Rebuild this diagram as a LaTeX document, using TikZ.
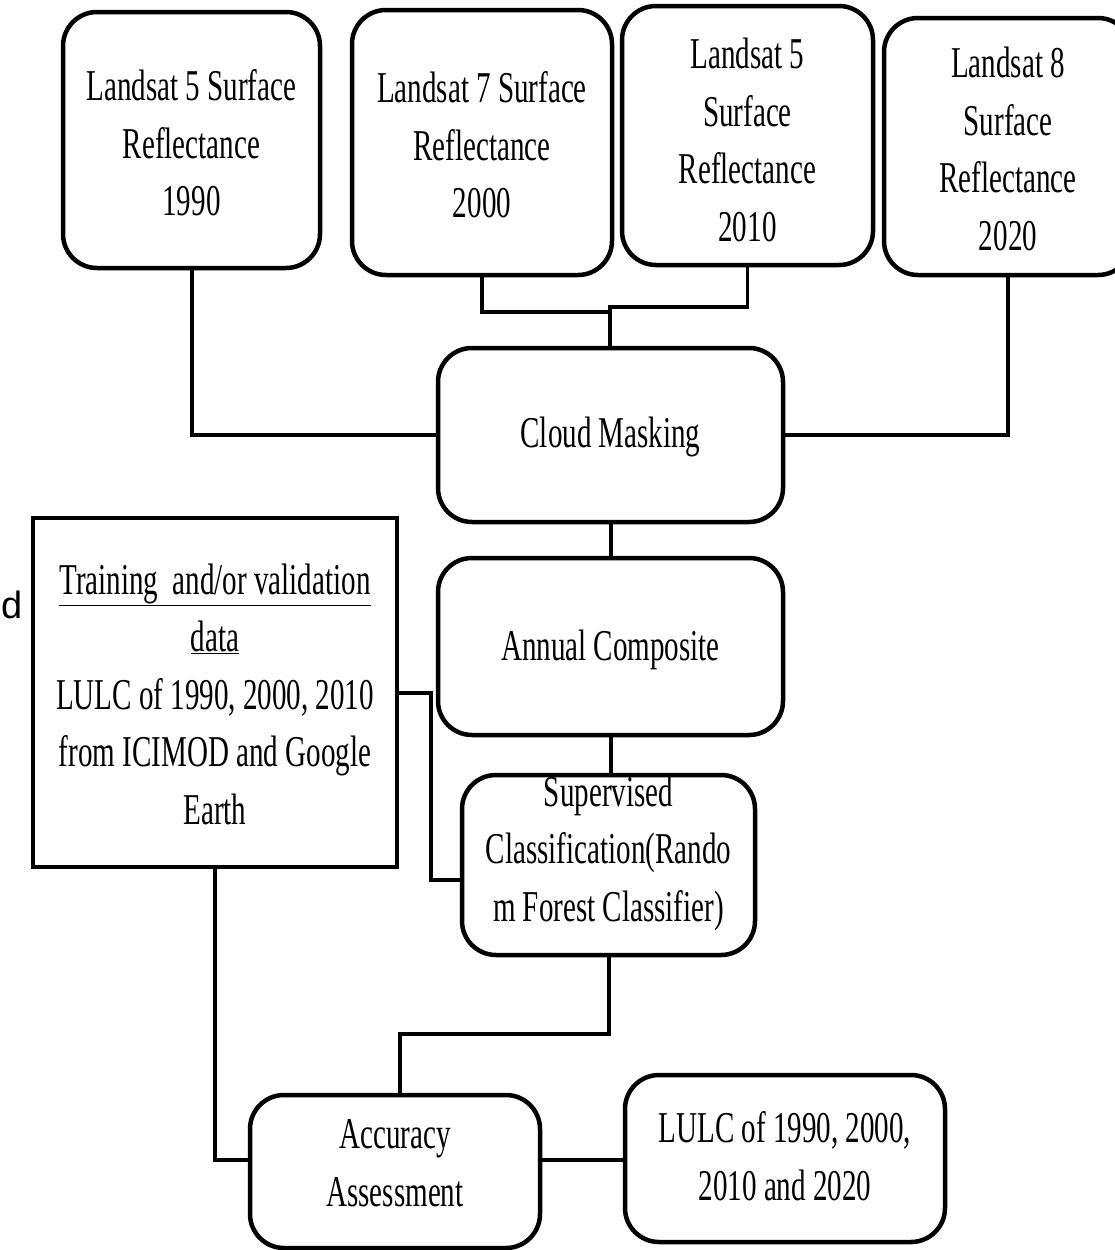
\documentclass[tikz,border=0pt]{standalone}
\usepackage{fontspec}
\setmainfont{Liberation Serif}[FakeStretch=0.66]
\newfontfamily\arialfont{Liberation Sans}
\begin{document}
\begin{tikzpicture}[x=1pt,y=-1pt,
  rbox/.style={draw, line width=4.5pt, rounded corners=34pt, fill=white, inner sep=0pt},
  sbox/.style={draw, line width=4.5pt, fill=white, inner sep=0pt},
  txt/.style={align=center, inner sep=0pt, font=\fontsize{44}{57.5}\selectfont},
  conn/.style={line width=4pt}]
\useasboundingbox[fill=white] (0,0) rectangle (1115,1250);

\coordinate (j1) at (610,312);
\coordinate (j2) at (610,307);
\coordinate (k) at (431,880);
\coordinate (m) at (400,1034);
\coordinate (n) at (215,1160);

% boxes
\node[rbox, minimum width=257, minimum height=256] (b1) at (191.5,140) {};
\node[rbox, minimum width=260, minimum height=265] (b2) at (482,142.5) {};
\node[rbox, minimum width=251, minimum height=259] (b3) at (747.5,135.5) {};
\node[rbox, minimum width=248, minimum height=257] (b4) at (1008,146.5) {};
\node[rbox, minimum width=345, minimum height=174] (cloud) at (610.5,435) {};
\node[rbox, minimum width=345, minimum height=177] (annual) at (610.5,646.5) {};
\node[rbox, minimum width=293, minimum height=180] (sup) at (608.5,865) {};
\node[sbox, minimum width=364, minimum height=349] (train) at (215,692.5) {};
\node[rbox, minimum width=290, minimum height=153] (acc) at (395,1171.5) {};
\node[rbox, minimum width=320, minimum height=167] (out) at (785,1158.5) {};

% texts
\node[txt] (t1) at (191.5,143) {Landsat 5 Surface\\Reflectance\\1990};
\node[txt] (t2) at (482,145) {Landsat 7 Surface\\Reflectance\\2000};
\node[txt] (t3) at (747.5,140) {Landsat 5\\Surface\\Reflectance\\2010};
\node[txt] (t4) at (1008,149) {Landsat 8\\Surface\\Reflectance\\2020};
\node[txt] (tc) at (610.5,437) {Cloud Masking};
\node[txt] (ta) at (610.5,650) {Annual Composite};
\node[txt] (ts) at (608.5,853) {Supervised\\Classification(Rando\\m Forest Classifier)};
\node[txt] (tt) at (215,694) {\underline{Training\ \ and/or validation}\\\underline{data}\\LULC of 1990, 2000, 2010\\from ICIMOD and Google\\Earth};
\node[txt] (tacc) at (395,1163) {Accuracy\\Assessment};
\node[txt] (tout) at (785,1156) {LULC of 1990, 2000,\\2010 and 2020};
\node[inner sep=0pt, anchor=base west, font=\arialfont\fontsize{38}{44}\selectfont] (d) at (1,618) {d};

% connectors
\draw[conn] (b1.south) |- (cloud.west);
\draw[conn] (b4.south) |- (cloud.east);
\draw[conn, line width=3.5pt] (b2.south) |- (j1);
\draw[conn, line width=3.5pt] (b3.south) |- (j2) -- (j2 |- cloud.north);
\draw[conn] (cloud.south) -- (annual.north);
\draw[conn] (annual.south) -- (annual.south |- sup.north);
\draw[conn] (train.east) -| (k) -- (k -| sup.west);
\draw[conn] (sup.south) |- (m) -- (m |- acc.north);
\draw[conn] (train.south) |- (n -| acc.west);
\draw[conn] (n -| acc.east) -- (n -| out.west);
\end{tikzpicture}
\end{document}
